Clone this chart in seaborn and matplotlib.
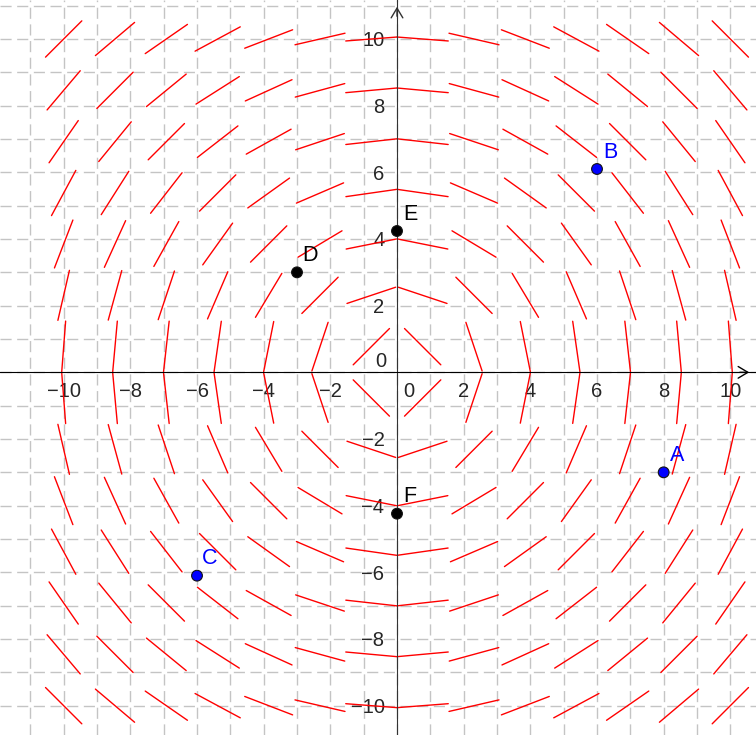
import numpy as np
import pandas as pd
import seaborn as sns
import matplotlib.pyplot as plt

# slope field dy/dx = -x/y, sampled on a 14 x 14 grid
grid_x = [-10.0, -8.46, -6.92, -5.38, -3.85, -2.31, -0.77, 0.77, 2.31, 3.85, 5.38, 6.92, 8.46, 10.0]
grid_y = [-10.0, -8.46, -6.92, -5.38, -3.85, -2.31, -0.77, 0.77, 2.31, 3.85, 5.38, 6.92, 8.46, 10.0]
seg_len = 1.54

# labelled points
pt_names = ["A", "B", "C", "D", "E", "F"]
pt_x = [8, 6, -6, -3, 0, 0]
pt_y = [-3, 6.1, -6.1, 3, 4.24, -4.24]
pt_colors = ["#0000ff", "#0000ff", "#0000ff", "black", "black", "black"]

x_ticks = [-10, -8, -6, -4, -2, 2, 4, 6, 8, 10]
y_ticks = [-10, -8, -6, -4, -2, 2, 4, 6, 8, 10]


def slope_segments(xs, ys, length):
    rows = []
    seg = 0
    for x0 in xs:
        for y0 in ys:
            r = np.hypot(x0, y0)
            dx, dy = y0 / r, -x0 / r  # tangent direction, slope -x/y
            h = length / 2
            rows.append((seg, x0 - h * dx, y0 - h * dy))
            rows.append((seg, x0 + h * dx, y0 + h * dy))
            seg += 1
    return pd.DataFrame(rows, columns=["seg", "x", "y"])


sns.set_style("white")
plt.rcParams["font.family"] = ["Liberation Sans", "DejaVu Sans"]

fig = plt.figure(figsize=(7.56, 7.35), dpi=100)
ax = fig.add_axes([0, 0, 1, 1])
ax.set_xlim(-11.91, 10.77)
ax.set_ylim(-10.88, 11.17)

# grid every unit
ax.set_xticks(range(-11, 11), minor=True)
ax.set_yticks(range(-10, 12), minor=True)
ax.grid(which="both", color="#c4c4c4", linestyle=(0, (8, 4)), linewidth=1)
ax.set_axisbelow(True)

segs = slope_segments(grid_x, grid_y, seg_len)
sns.lineplot(data=segs, x="x", y="y", units="seg", estimator=None, sort=False,
             color="red", linewidth=1, ax=ax, zorder=3)

pts = pd.DataFrame({"name": pt_names, "x": pt_x, "y": pt_y})
sns.scatterplot(data=pts, x="x", y="y", hue="name",
                palette=dict(zip(pt_names, pt_colors)), s=60,
                edgecolor="#111", linewidth=0.8, legend=False, ax=ax, zorder=5)
for name, x, y, c in zip(pt_names, pt_x, pt_y, pt_colors):
    ax.annotate(name, (x, y), xytext=(13, 17), textcoords="offset pixels",
                ha="center", va="center", fontsize=15.5, color=c)

# axes through origin
for side in ["top", "right"]:
    ax.spines[side].set_visible(False)
ax.spines["left"].set_position(("data", 0))
ax.spines["bottom"].set_position(("data", 0))
ax.spines["left"].set_color("#333")
ax.spines["bottom"].set_color("black")
ax.spines["left"].set_zorder(4)
ax.spines["bottom"].set_zorder(4)

ax.set_xticks(x_ticks)
ax.set_yticks(y_ticks)
ax.tick_params(which="major", direction="out", length=3, width=1, labelsize=14.5, pad=4)
ax.tick_params(which="minor", length=0)
ax.tick_params(axis="y", pad=6)
ax.set_xlabel("")
ax.set_ylabel("")

ax.annotate("0", (0, 0), xytext=(12, -19), textcoords="offset pixels",
            ha="center", va="center", fontsize=14.5)
ax.annotate("0", (0, 0), xytext=(-16, 11), textcoords="offset pixels",
            ha="center", va="center", fontsize=14.5)

# arrow heads
ax.annotate("", xy=(0, 11.05), xytext=(0, 10.6),
            arrowprops=dict(arrowstyle="->,head_length=0.5,head_width=0.3",
                            color="#333", lw=1, mutation_scale=14))
ax.annotate("", xy=(10.65, 0), xytext=(10.2, 0),
            arrowprops=dict(arrowstyle="->,head_length=0.5,head_width=0.3",
                            color="black", lw=1, mutation_scale=14))

fig.savefig("out.png", dpi=100)
